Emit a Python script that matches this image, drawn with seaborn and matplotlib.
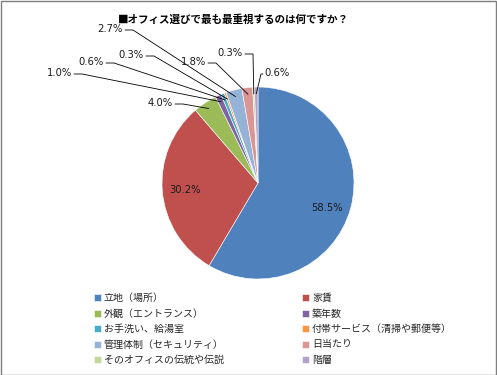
import numpy as np
import matplotlib
matplotlib.use('Agg')
import matplotlib.pyplot as plt
import seaborn as sns
from matplotlib.lines import Line2D
from matplotlib.patches import Rectangle

sns.set_theme(style='white')
plt.rcParams['font.family'] = ['Noto Sans CJK JP', 'DejaVu Sans']

title = '■オフィス選びで最も最重視するのは何ですか？'
categories = ['立地（場所）', '家賃', '外観（エントランス）', '築年数', 'お手洗い、給湯室',
              '付帯サービス（清掃や郵便等）', '管理体制（セキュリティ）', '日当たり',
              'そのオフィスの伝統や伝説', '階層']
values = [58.5, 30.2, 4.0, 1.0, 0.6, 0.3, 2.7, 1.8, 0.3, 0.6]
colors = ['#4F81BD', '#C0504D', '#9BBB59', '#8064A2', '#4BACC6',
          '#F79646', '#95B3D7', '#D99694', '#C3D69B', '#B3A2C7']

W, H = 497, 375
fig = plt.figure(figsize=(W / 100, H / 100), dpi=100)
fig.patch.set_facecolor('white')

# pie centre / radius in pixels
cx, cy, r = 258, 183, 96
ax = fig.add_axes([(cx - r) / W, (H - cy - r) / H, 2 * r / W, 2 * r / H])
wedges, _ = ax.pie(values, colors=colors, startangle=90, counterclock=False,
                   wedgeprops=dict(edgecolor='white', linewidth=0.4))
ax.set_xlim(-1, 1)
ax.set_ylim(-1, 1)
ax.set_aspect('equal')
ax.axis('off')

fs = 7.2
fig.text(233 / W, 1 - 20 / H, title, ha='center', va='center',
         fontsize=7.6, fontweight='bold', color='black')

# label text positions (pixels, image coords) and leader side
label_pos = [(327, 208, None), (185, 190, None), (160, 103, 'L'),
             (59, 73, 'L'), (91, 62, 'L'), (131, 55, 'L'), (110, 29, 'L'),
             (193, 62, 'L'), (230, 53, 'L'), (277, 73, 'R')]

fracs = np.array(values) / sum(values)
cum = np.concatenate([[0], np.cumsum(fracs)])
to_fig = fig.transFigure.inverted()
for i, v in enumerate(values):
    x, y, side = label_pos[i]
    txt = f'{v:.1f}%'
    fig.text(x / W, 1 - y / H, txt, ha='center', va='center', fontsize=fs,
             family=['DejaVu Sans'], color='#1a1a1a')
    if side is None:
        continue
    mid = 90 - 360 * (cum[i] + cum[i + 1]) / 2
    px, py = 0.93 * np.cos(np.radians(mid)), 0.93 * np.sin(np.radians(mid))
    fx, fy = to_fig.transform(ax.transData.transform((px, py)))
    if side == 'L':
        sx = x + 15
        xs = [sx / W, (sx + 8) / W, fx]
    else:
        sx = x - 16
        xs = [(sx + 2) / W, sx / W, fx]
    ys = [1 - (y + 1) / H, 1 - (y + 1) / H, fy]
    fig.add_artist(Line2D(xs, ys, transform=fig.transFigure, color='black', lw=0.6))

# legend in two columns, row-major order
for col, x0 in ((0, 94), (1, 302)):
    idx = list(range(col, len(values), 2))
    fig.legend([wedges[k] for k in idx], [categories[k] for k in idx],
               loc='upper left', bbox_to_anchor=(x0 / W, 1 - 293 / H),
               frameon=False, fontsize=fs, handlelength=0.7, handleheight=0.7,
               handletextpad=0.3, labelspacing=0.55, borderaxespad=0, borderpad=0)

fig.add_artist(Rectangle((0.5 / W, 0.5 / H), 1 - 1.5 / W, 1 - 1.5 / H,
                         transform=fig.transFigure, fill=False, edgecolor='#7f7f7f', lw=1))

fig.savefig('out.png', dpi=100)
